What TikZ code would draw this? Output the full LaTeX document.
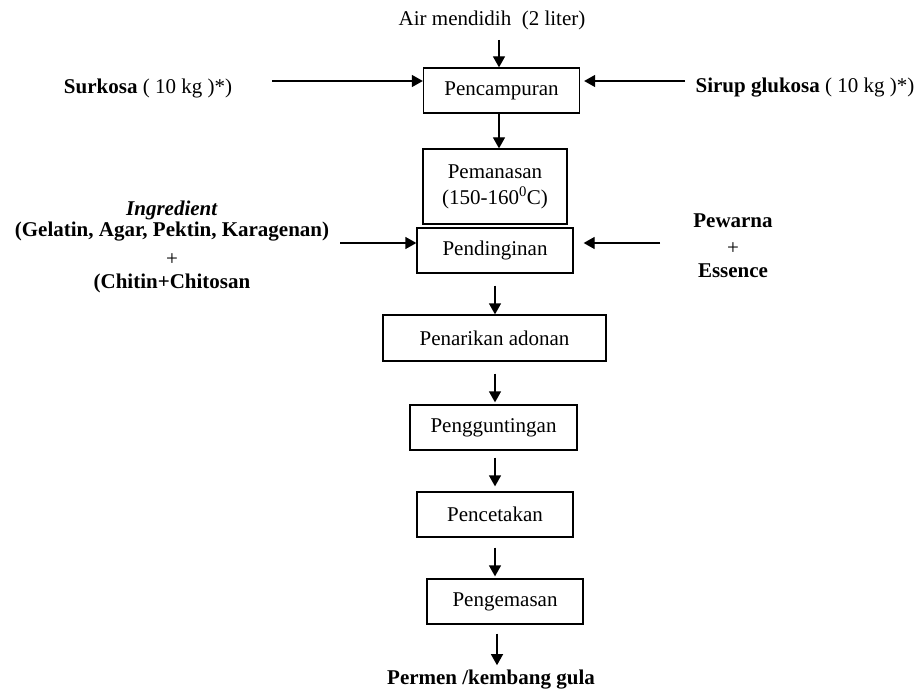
\documentclass[tikz,border=0pt]{standalone}
\usepackage{fontspec}
\setmainfont{Liberation Serif}
\usetikzlibrary{arrows.meta}
\begin{document}
\begin{tikzpicture}[x=1pt,y=-1pt,
  font=\fontsize{21}{24}\selectfont,
  procbox/.style={draw, line width=1.3pt, minimum height=45pt, inner sep=0pt, align=center},
  lbl/.style={inner sep=0pt, align=center},
  arr/.style={line width=1.3pt, -{Triangle[length=11pt,width=12pt]}}]
\useasboundingbox (0,0) rectangle (918,695);
% boxes
\node[procbox, minimum width=156pt] (mix) at (501.5,90.5) {Pencampuran};
\node[procbox, minimum width=144pt, minimum height=75pt] (heat) at (495,186.5) {Pemanasan\\[2pt](150-160\textsuperscript{0}C)};
\node[procbox, minimum width=156pt] (cool) at (495,250.5) {Pendinginan};
\node[procbox, minimum width=223pt, minimum height=46pt] (pull) at (494.5,338) {Penarikan adonan};
\node[procbox, minimum width=167pt] (cut) at (493.5,427.5) {Pengguntingan};
\node[procbox, minimum width=156pt] (mold) at (495,514.5) {Pencetakan};
\node[procbox, minimum width=156pt] (pack) at (505,601.5) {Pengemasan};
% labels
\node[lbl] (air) at (492,20) {Air mendidih\ \ (2 liter)};
\node[lbl] (suk) at (148,88) {\textbf{Surkosa} ( 10 kg )*)};
\node[lbl] (sir) at (805,88) {\textbf{Sirup glukosa} ( 10 kg )*)};
\node[lbl, anchor=north] (ing) at (172,201) {\textbf{\textit{Ingredient}}\\[-3pt]\textbf{(Gelatin, Agar, Pektin, Karagenan)}\\[5pt]+\\[-1pt]\textbf{(Chitin+Chitosan}};
\node[lbl, anchor=north] (pew) at (733,214) {\textbf{Pewarna}\\[3pt]+\\[-1pt]\textbf{Essence}};
\node[lbl] (out) at (491,680) {\textbf{Permen /kembang gula}};
% free ends
\coordinate (a0) at (499,40);
\coordinate (s0) at (272,81);
\coordinate (g0) at (685,81);
\coordinate (i0) at (340,243);
\coordinate (p0) at (660,243);
% arrows
\draw[arr] (a0) -- (a0 |- mix.north);
\draw[arr] (a0 |- mix.south) -- (a0 |- heat.north);
\draw[arr] (s0) -- (s0 -| mix.west);
\draw[arr] (g0) -- ([xshift=4pt]g0 -| mix.east);
\draw[arr] (i0) -- (i0 -| cool.west);
\draw[arr] (p0) -- ([xshift=10pt]p0 -| cool.east);
\draw[arr, shorten <=12pt] (cool.south) -- (cool.south |- pull.north);
\draw[arr, shorten <=12pt, shorten >=2pt] (cool.south |- pull.south) -- (cool.south |- cut.north);
\draw[arr, shorten <=7pt, shorten >=5pt] (cool.south |- cut.south) -- (cool.south |- mold.north);
\draw[arr, shorten <=10pt, shorten >=2pt] (cool.south |- mold.south) -- (cool.south |- pack.north);
\draw[arr, shorten <=9pt, shorten >=5pt] ([xshift=-8pt]pack.south) -- ([xshift=-8pt]pack.south |- out.north);
\end{tikzpicture}
\end{document}
